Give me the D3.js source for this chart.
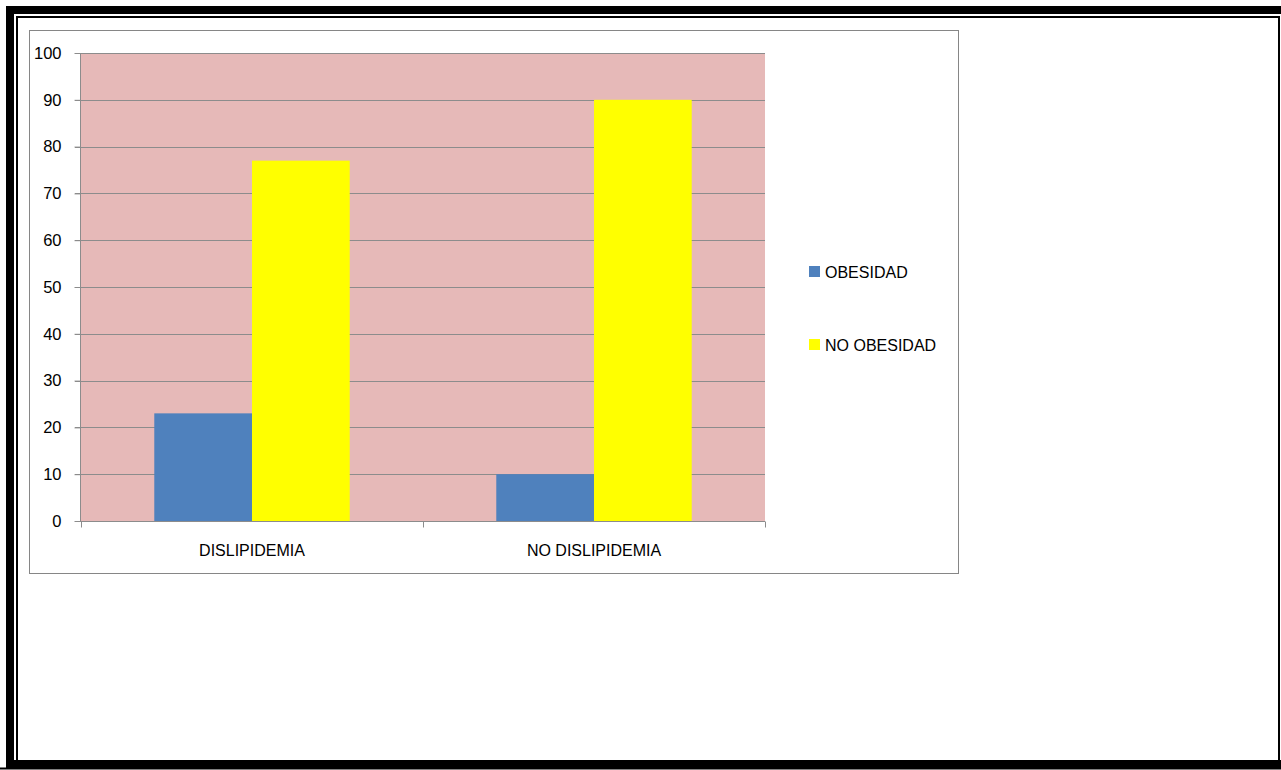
<!DOCTYPE html>
<html>
<head>
<meta charset="utf-8">
<script src="https://cdn.jsdelivr.net/npm/d3@7"></script>
<style>
  body { margin: 0; background: #fff; }
  svg { display: block; }
</style>
</head>
<body>
<svg id="canvas"></svg>
<script>
const categories = ["DISLIPIDEMIA", "NO DISLIPIDEMIA"];
const seriesNames = ["OBESIDAD", "NO OBESIDAD"];
const obesidad = [23, 10];
const noObesidad = [77, 90];
const yTicks = [0, 10, 20, 30, 40, 50, 60, 70, 80, 90, 100];
const colors = ["#4F81BD", "#FFFF00"];

const width = 1281;
const height = 770;
const font = "Liberation Sans, Arial, sans-serif";

const svg = d3.select("svg#canvas")
    .attr("width", width)
    .attr("height", height);

// page border (thick-thin)
svg.append("rect").attr("x", 10).attr("y", 10).attr("width", 1300).attr("height", 754)
    .attr("fill", "none").attr("stroke", "#000").attr("stroke-width", 8);
svg.append("rect").attr("x", 17).attr("y", 17).attr("width", 1262).attr("height", 747)
    .attr("fill", "none").attr("stroke", "#000").attr("stroke-width", 2);
svg.append("line").attr("x1", 0).attr("x2", width).attr("y1", 768.5).attr("y2", 768.5)
    .attr("stroke", "#000").attr("stroke-width", 2);
svg.append("line").attr("x1", 17).attr("x2", 1279).attr("y1", 764.5).attr("y2", 764.5)
    .attr("stroke", "#000").attr("stroke-width", 4);

// chart area
svg.append("rect").attr("x", 29.5).attr("y", 30.5).attr("width", 929).attr("height", 543)
    .attr("fill", "#fff").attr("stroke", "#868686").attr("stroke-width", 1);

const plot = { left: 81, right: 765, top: 53, bottom: 521 };

const x = d3.scaleBand()
    .domain(categories)
    .range([plot.left, plot.right]);

const xInner = d3.scaleBand()
    .domain(seriesNames)
    .range([0, x.bandwidth()])
    .paddingOuter(0.75);

const y = d3.scaleLinear()
    .domain([0, 100])
    .range([plot.bottom, plot.top]);

svg.append("rect")
    .attr("x", plot.left).attr("y", plot.top)
    .attr("width", plot.right - plot.left).attr("height", plot.bottom - plot.top)
    .attr("fill", "#E6B9B8");

// gridlines
svg.append("g")
  .selectAll("line")
  .data(yTicks.filter(d => d > 0))
  .join("line")
    .attr("x1", plot.left - 6)
    .attr("x2", plot.right)
    .attr("y1", d => Math.round(y(d)) + 0.5)
    .attr("y2", d => Math.round(y(d)) + 0.5)
    .attr("stroke", "#8C8C8C")
    .attr("stroke-width", 1);

// bars
const table = categories.map((c, i) => ({ cat: c, values: [obesidad[i], noObesidad[i]] }));

svg.append("g")
  .selectAll("g")
  .data(table)
  .join("g")
    .attr("transform", d => `translate(${x(d.cat)},0)`)
  .selectAll("rect")
  .data(d => d.values.map((v, j) => ({ name: seriesNames[j], value: v, j })))
  .join("rect")
    .attr("x", d => xInner(d.name))
    .attr("y", d => y(d.value))
    .attr("width", xInner.bandwidth())
    .attr("height", d => y(0) - y(d.value))
    .attr("fill", d => colors[d.j]);

// y axis
const yAxis = svg.append("g")
    .attr("transform", `translate(${plot.left - 0.5},0)`)
    .call(d3.axisLeft(y).tickValues(yTicks).tickSize(6).tickPadding(13));
yAxis.select(".domain").attr("stroke", "#8C8C8C").attr("d", `M0,${plot.top}V${plot.bottom}`);
yAxis.selectAll(".tick line").attr("stroke", "#8C8C8C");
yAxis.selectAll("text").attr("font-family", font).attr("font-size", 16.5).attr("fill", "#000");

// x axis
const xAxis = svg.append("g")
    .attr("transform", `translate(0,${plot.bottom + 0.5})`)
    .call(d3.axisBottom(x).tickSize(0).tickPadding(23));
xAxis.select(".domain").attr("stroke", "#8C8C8C").attr("d", `M${plot.left - 6},0H${plot.right}`);
xAxis.selectAll("text").attr("font-family", font).attr("font-size", 16).attr("fill", "#000");
xAxis.selectAll(".sep")
  .data([plot.left, x(categories[1]), plot.right])
  .join("line")
    .attr("x1", d => Math.round(d) + 0.5).attr("x2", d => Math.round(d) + 0.5)
    .attr("y1", 0).attr("y2", 6)
    .attr("stroke", "#8C8C8C");

// legend
const legend = svg.append("g")
  .selectAll("g")
  .data(seriesNames)
  .join("g")
    .attr("transform", (d, i) => `translate(809,${266 + i * 73})`);
legend.append("rect")
    .attr("width", 11).attr("height", 11)
    .attr("fill", (d, i) => colors[i]);
legend.append("text")
    .attr("x", 16).attr("y", 6)
    .attr("dy", "0.35em")
    .attr("font-family", font).attr("font-size", 16)
    .text(d => d);
</script>
</body>
</html>
